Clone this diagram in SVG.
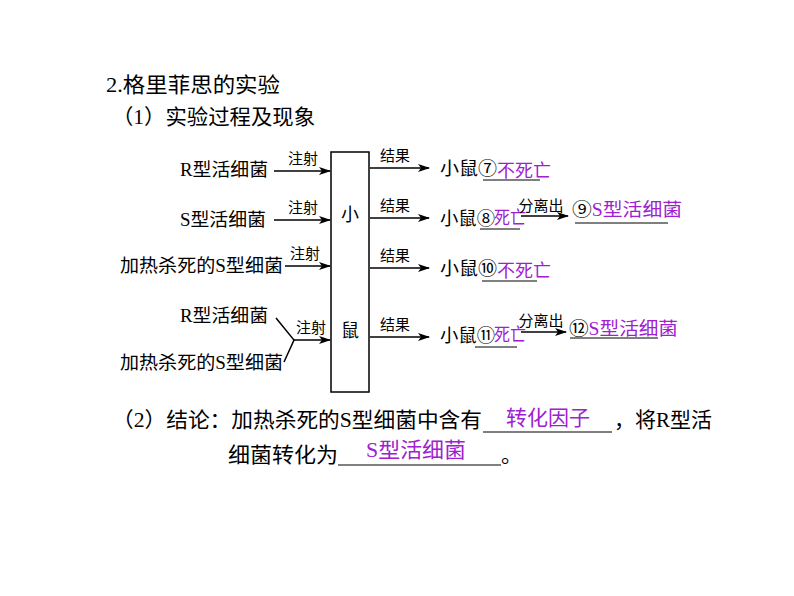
<svg xmlns="http://www.w3.org/2000/svg" width="794" height="596" viewBox="0 0 794 596">
<defs>
<marker id="ah" markerWidth="12" markerHeight="8" refX="11" refY="4" orient="auto" markerUnits="userSpaceOnUse">
<path d="M0,0 L12,4 L0,8 L3,4 Z" fill="#000"/>
</marker>
<style>
.t{font-family:"Liberation Serif","Noto Sans CJK SC",serif;fill:#000}
.h{font-size:21px}
.n{font-size:18px}
.s{font-size:15px}
.p{fill:#A020D0}
.ln{stroke:#000;stroke-width:1.5;fill:none}
.ul{stroke:#000;stroke-width:1;fill:none}
.ar{stroke:#000;stroke-width:1.5;fill:none;marker-end:url(#ah)}
</style>
</defs>
<rect width="794" height="596" fill="#fff"/>
<g id="title">
<text class="t h" x="106" y="92" textLength="174" lengthAdjust="spacingAndGlyphs">2.格里菲思的实验</text>
<text class="t h" x="112" y="124" textLength="203" lengthAdjust="spacingAndGlyphs">（1）实验过程及现象</text>
</g>
<g id="mouse-box">
<rect x="331" y="152" width="38" height="240" fill="#fff" stroke="#000" stroke-width="1.5"/>
<text class="t n" x="350" y="221" text-anchor="middle">小</text>
<text class="t n" x="350" y="337" text-anchor="middle">鼠</text>
</g>
<g id="in1"><text class="t n" x="180" y="176" textLength="88" lengthAdjust="spacingAndGlyphs">R型活细菌</text></g>
<g id="in2"><text class="t n" x="180" y="226" textLength="86" lengthAdjust="spacingAndGlyphs">S型活细菌</text></g>
<g id="in3"><text class="t n" x="120" y="272" textLength="163" lengthAdjust="spacingAndGlyphs">加热杀死的S型细菌</text></g>
<g id="in4a"><text class="t n" x="180" y="322" textLength="88" lengthAdjust="spacingAndGlyphs">R型活细菌</text></g>
<g id="in4b"><text class="t n" x="120" y="369" textLength="163" lengthAdjust="spacingAndGlyphs">加热杀死的S型细菌</text></g>
<g id="out1">
<text class="t n" x="440" y="175" textLength="57" lengthAdjust="spacingAndGlyphs">小鼠⑦</text>
<text class="t n p" x="497" y="177">不死亡</text>
</g>
<g id="out2">
<text class="t n" x="440" y="225" textLength="55" lengthAdjust="spacingAndGlyphs">小鼠⑧</text>
<text class="t n p" x="494" y="224" textLength="32" lengthAdjust="spacingAndGlyphs">死亡</text>
</g>
<g id="out2b"><text class="t n" x="572" y="216" textLength="110" lengthAdjust="spacingAndGlyphs">⑨<tspan class="p">S型活细菌</tspan></text></g>
<g id="out3">
<text class="t n" x="440" y="275" textLength="57" lengthAdjust="spacingAndGlyphs">小鼠⑩</text>
<text class="t n p" x="497" y="277">不死亡</text>
</g>
<g id="out4">
<text class="t n" x="440" y="342" textLength="55" lengthAdjust="spacingAndGlyphs">小鼠⑪</text>
<text class="t n p" x="494" y="341" textLength="32" lengthAdjust="spacingAndGlyphs">死亡</text>
</g>
<g id="out4b"><text class="t n" x="569" y="335" textLength="109" lengthAdjust="spacingAndGlyphs">⑫<tspan class="p">S型活细菌</tspan></text></g>
<g id="connectors">
<line class="ar" x1="274" y1="171" x2="330" y2="171"/>
<line class="ar" x1="274" y1="220" x2="330" y2="220"/>
<line class="ar" x1="285" y1="266" x2="330" y2="266"/>
<polyline class="ln" points="276,318 294,340 284,362"/>
<line class="ar" x1="294" y1="340" x2="330" y2="340"/>
<line class="ar" x1="370" y1="168" x2="429" y2="168"/>
<line class="ar" x1="370" y1="218" x2="429" y2="218"/>
<line class="ar" x1="370" y1="268" x2="429" y2="268"/>
<line class="ar" x1="370" y1="337" x2="429" y2="337"/>
<line class="ar" x1="521" y1="216" x2="568" y2="216"/>
<line class="ar" x1="521" y1="332" x2="566" y2="332"/>
<text class="t s" x="303" y="164" text-anchor="middle">注射</text>
<text class="t s" x="303" y="213" text-anchor="middle">注射</text>
<text class="t s" x="305" y="259" text-anchor="middle">注射</text>
<text class="t s" x="311" y="333" text-anchor="middle">注射</text>
<text class="t s" x="395" y="161" text-anchor="middle">结果</text>
<text class="t s" x="395" y="211" text-anchor="middle">结果</text>
<text class="t s" x="395" y="261" text-anchor="middle">结果</text>
<text class="t s" x="395" y="330" text-anchor="middle">结果</text>
<text class="t s" x="541" y="211" text-anchor="middle">分离出</text>
<text class="t s" x="541" y="326" text-anchor="middle">分离出</text>
<line class="ul" x1="483" y1="180" x2="540" y2="180"/>
<line class="ul" x1="480" y1="229" x2="520" y2="229"/>
<line class="ul" x1="575" y1="223" x2="668" y2="223"/>
<line class="ul" x1="482" y1="281" x2="537" y2="281"/>
<line class="ul" x1="475" y1="347" x2="517" y2="347"/>
<line class="ul" x1="570" y1="338" x2="658" y2="338"/>
</g>
<g id="conclusion">
<text class="t h" x="112" y="427" textLength="370" lengthAdjust="spacingAndGlyphs">（2）结论：加热杀死的S型细菌中含有</text>
<line class="ul" x1="483" y1="432" x2="612" y2="432"/>
<text class="t h p" x="506" y="425" textLength="84" lengthAdjust="spacingAndGlyphs">转化因子</text>
<text class="t h" x="614" y="427" textLength="98" lengthAdjust="spacingAndGlyphs">，将R型活</text>
<text class="t h" x="228" y="462" textLength="110" lengthAdjust="spacingAndGlyphs">细菌转化为</text>
<line class="ul" x1="338" y1="465" x2="501" y2="465"/>
<text class="t h p" x="366" y="457" textLength="100" lengthAdjust="spacingAndGlyphs">S型活细菌</text>
<text class="t h" x="501" y="462">。</text>
</g>
</svg>
